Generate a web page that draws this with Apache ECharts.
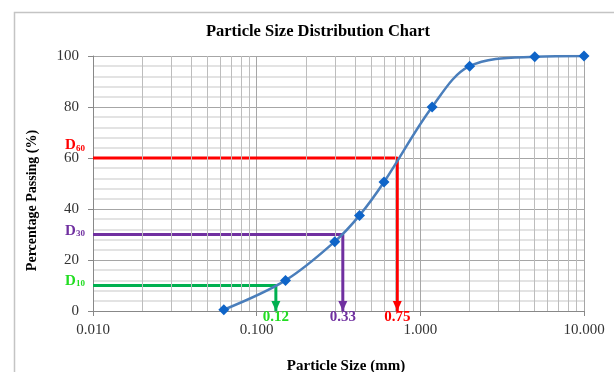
<!DOCTYPE html>
<html>
<head>
<meta charset="utf-8">
<script src="https://cdn.jsdelivr.net/npm/echarts@6/dist/echarts.min.js"></script>
<style>
html,body{margin:0;padding:0;background:#fff;}
#chart{width:614px;height:372px;}
</style>
</head>
<body>
<div id="chart"></div>
<script>
// ---- data ----
const sizes = [0.063, 0.15, 0.30, 0.425, 0.60, 1.18, 2.0, 5.0, 10.0];
const passing = [0.5, 12, 27.2, 37.5, 50.6, 80, 96, 99.7, 100];
const dNames = ['10', '30', '60'];
const dPercent = [10, 30, 60];
const dSize = [0.131, 0.336, 0.723];
const dText = ['0.12', '0.33', '0.75'];
const xTicks = [0.01, 0.1, 1, 10];

// ---- styles ----
const dLineColors = ['#00b050', '#7030a0', '#ff0000'];
const dTextColors = ['#22dd22', '#7030a0', '#ff0000'];
const dLabelDy = [-5, -4, -13];
const serif = '"Liberation Serif", "Times New Roman", serif';

const minorX = [];
for (let k = -2; k <= 0; k++) {
  for (let m = 2; m <= 9; m++) minorX.push(+(m * Math.pow(10, k)).toPrecision(3));
}

const chart = echarts.init(document.getElementById('chart'));

const series = [];
// vertical minor grid lines (log spacing)
series.push({
  type: 'line', data: [], z: 1, silent: true,
  markLine: {
    silent: true, symbol: ['none', 'none'], animation: false,
    label: {show: false},
    lineStyle: {color: '#bdbdbd', width: 1, type: 'solid'},
    emphasis: {disabled: true},
    data: minorX.map(v => ({xAxis: v}))
  }
});

dNames.forEach((n, i) => {
  const x = dSize[i], y = dPercent[i];
  series.push({
    type: 'line', z: 4, silent: true, symbol: 'none',
    data: [[0.01, y], [x, y], [x, 0]],
    lineStyle: {color: dLineColors[i], width: 3},
    markPoint: {
      silent: true, animation: false,
      data: [
        {
          coord: [x, 0], symbol: 'triangle', symbolRotate: 180,
          symbolSize: [9, 10], symbolOffset: [0, -5],
          itemStyle: {color: dLineColors[i]},
          label: {
            show: true, position: 'inside', offset: [0, 11],
            formatter: dText[i], color: dTextColors[i],
            fontFamily: serif, fontWeight: 'bold', fontSize: 15
          }
        },
        {
          coord: [0.01, y], symbol: 'circle', symbolSize: 1,
          itemStyle: {color: 'rgba(0,0,0,0)'},
          label: {
            show: true, position: 'inside', offset: [-18, dLabelDy[i]],
            formatter: '{b|D}{s|' + n + '}',
            rich: {
              b: {fontFamily: serif, fontWeight: 'bold', fontSize: 15, color: dTextColors[i], verticalAlign: 'bottom', lineHeight: 16},
              s: {fontFamily: serif, fontWeight: 'bold', fontSize: 9, color: dTextColors[i], verticalAlign: 'bottom', lineHeight: 16}
            }
          }
        }
      ]
    }
  });
});

series.push({
  type: 'line', z: 6,
  data: sizes.map((s, i) => [s, passing[i]]),
  smooth: 0.35,
  symbol: 'diamond', symbolSize: 11,
  lineStyle: {color: '#4a7ebb', width: 2.5},
  itemStyle: {color: '#0e64c8'}
});

chart.setOption({
  animation: false,
  backgroundColor: '#fff',
  title: {
    text: 'Particle Size Distribution Chart',
    left: 318, top: 23, textAlign: 'center', padding: 0,
    textStyle: {fontFamily: serif, fontWeight: 'bold', fontSize: 16.5, color: '#000'}
  },
  graphic: [{
    type: 'rect', left: 12, top: 10, silent: true,
    shape: {width: 640, height: 400},
    style: {fill: 'none', stroke: '#c4c4c4', lineWidth: 1.5}
  }],
  grid: {left: 93, right: 30, top: 56, bottom: 61, outerBoundsMode: 'none', containLabel: false},
  xAxis: {
    type: 'log', logBase: 10, min: xTicks[0], max: xTicks[xTicks.length - 1],
    name: 'Particle Size (mm)', nameLocation: 'middle', nameGap: 48,
    nameTextStyle: {fontFamily: serif, fontWeight: 'bold', fontSize: 15, color: '#000', padding: [0, 0, 0, 15]},
    axisLine: {show: true, lineStyle: {color: '#888', width: 1}},
    axisTick: {show: true, length: 5, lineStyle: {color: '#888'}},
    axisLabel: {
      margin: 12, fontFamily: serif, fontSize: 15, color: '#333',
      formatter: v => Number(v).toFixed(3)
    },
    splitLine: {show: true, lineStyle: {color: '#a6a6a6', width: 1}}
  },
  yAxis: {
    type: 'value', min: 0, max: 100, interval: 20,
    name: 'Percentage Passing (%)', nameLocation: 'middle', nameGap: 54,
    nameTextStyle: {fontFamily: serif, fontWeight: 'bold', fontSize: 14, color: '#000', padding: [0, 34, 0, 0]},
    axisLine: {show: true, lineStyle: {color: '#888', width: 1}},
    axisTick: {show: true, length: 5, lineStyle: {color: '#888'}},
    axisLabel: {margin: 14, fontFamily: serif, fontSize: 15, color: '#333'},
    splitLine: {show: true, lineStyle: {color: '#a6a6a6', width: 1}},
    minorTick: {show: false, splitNumber: 5},
    minorSplitLine: {show: true, lineStyle: {color: '#dadada', width: 1.5}}
  },
  series: series
});
</script>
</body>
</html>
